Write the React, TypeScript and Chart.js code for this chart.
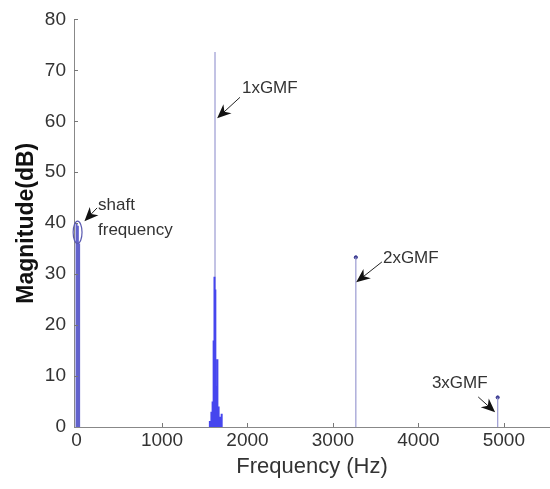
import React, { useEffect, useRef } from "react";
import { Chart, registerables } from "chart.js";

Chart.register(...registerables);

// ---- data ----
const xTickValues = [0, 1000, 2000, 3000, 4000, 5000];
const yTickValues = [0, 10, 20, 30, 40, 50, 60, 70, 80];

const shaftFreqs = [0, 15, 30];
const shaftMags = [40, 39.5, 36];

const harmonicFreqs = [1620, 3268, 4928];
const harmonicMags = [73.6, 33.3, 5.8];

const sidebandFreqs = [1560, 1578, 1592, 1604, 1614, 1624, 1634, 1648, 1662, 1678, 1698];
const sidebandMags = [1.2, 3.0, 5.0, 17.0, 29.5, 27.0, 8.0, 13.3, 4.0, 2.0, 2.6];

const annotationLabels = [
  ["shaft", "frequency"],
  ["1xGMF"],
  ["2xGMF"],
  ["3xGMF"],
];
// text anchor (left, first-line middle) and arrow tail/tip, in data units
const annotationTextX = [251, 1935, 3585, 4158];
const annotationTextY = [43.5, 66.5, 33.1, 8.6];
const arrowTailX = [240, 1912, 3573, 4700];
const arrowTailY = [43.0, 64.7, 32.4, 5.9];
const arrowTipX = [92, 1645, 3272, 4898];
const arrowTipY = [40.4, 60.6, 28.4, 2.9];

// ellipse around the shaft frequency peak (center and radii in data units)
const shaftEllipse = { cx: 12, cy: 38.2, rx: 52, ry: 2.2 };

function spikes(freqs: number[], mags: number[]) {
  const pts: { x: number; y: number | null }[] = [];
  freqs.forEach((f, i) => {
    pts.push({ x: f, y: 0 });
    pts.push({ x: f, y: mags[i] });
    pts.push({ x: f, y: null });
  });
  return pts;
}

const FONT = '"Liberation Sans", Arial, Helvetica, sans-serif';

const decorPlugin = {
  id: "decor",
  afterDatasetsDraw(chart: any) {
    const { ctx, chartArea, scales } = chart;
    const xs = scales.x;
    const ys = scales.y;
    ctx.save();
    // inner tick marks
    ctx.strokeStyle = "#777";
    ctx.lineWidth = 1;
    ctx.beginPath();
    xTickValues.forEach((v) => {
      if (v === 0) return;
      const px = Math.round(xs.getPixelForValue(v)) + 0.5;
      ctx.moveTo(px, chartArea.bottom);
      ctx.lineTo(px, chartArea.bottom - 4);
    });
    yTickValues.forEach((v) => {
      if (v === 0) return;
      const py = Math.round(ys.getPixelForValue(v)) + 0.5;
      ctx.moveTo(chartArea.left, py);
      ctx.lineTo(chartArea.left + 4, py);
    });
    ctx.stroke();

    // ellipse
    const ecx = xs.getPixelForValue(shaftEllipse.cx);
    const ecy = ys.getPixelForValue(shaftEllipse.cy);
    const erx = Math.abs(xs.getPixelForValue(shaftEllipse.cx + shaftEllipse.rx) - ecx);
    const ery = Math.abs(ys.getPixelForValue(shaftEllipse.cy + shaftEllipse.ry) - ecy);
    ctx.strokeStyle = "#5a5ab0";
    ctx.lineWidth = 1.2;
    ctx.beginPath();
    ctx.ellipse(ecx, ecy, erx, ery, 0, 0, Math.PI * 2);
    ctx.stroke();

    // annotations
    ctx.font = `17px ${FONT}`;
    ctx.fillStyle = "#333";
    ctx.textBaseline = "middle";
    ctx.textAlign = "left";
    annotationLabels.forEach((lines, i) => {
      const tx = xs.getPixelForValue(annotationTextX[i]);
      const ty = ys.getPixelForValue(annotationTextY[i]);
      lines.forEach((ln, j) => ctx.fillText(ln, tx, ty + j * 25));

      const x0 = xs.getPixelForValue(arrowTailX[i]);
      const y0 = ys.getPixelForValue(arrowTailY[i]);
      const x1 = xs.getPixelForValue(arrowTipX[i]);
      const y1 = ys.getPixelForValue(arrowTipY[i]);
      const ang = Math.atan2(y1 - y0, x1 - x0);
      const L = 14;
      const W = 6;
      ctx.strokeStyle = "#222";
      ctx.lineWidth = 1;
      ctx.beginPath();
      ctx.moveTo(x0, y0);
      ctx.lineTo(x1 - Math.cos(ang) * 6, y1 - Math.sin(ang) * 6);
      ctx.stroke();
      const bx = x1 - Math.cos(ang) * L;
      const by = y1 - Math.sin(ang) * L;
      const nx = -Math.sin(ang);
      const ny = Math.cos(ang);
      const mx = x1 - Math.cos(ang) * (L * 0.7);
      const my = y1 - Math.sin(ang) * (L * 0.7);
      ctx.fillStyle = "#111";
      ctx.beginPath();
      ctx.moveTo(x1, y1);
      ctx.lineTo(bx + nx * W, by + ny * W);
      ctx.lineTo(mx, my);
      ctx.lineTo(bx - nx * W, by - ny * W);
      ctx.closePath();
      ctx.fill();
      ctx.fillStyle = "#333";
    });
    ctx.restore();
  },
};

export default function App() {
  const ref = useRef<HTMLCanvasElement | null>(null);
  useEffect(() => {
    if (!ref.current) return;
    const chart = new Chart(ref.current, {
      type: "line",
      data: {
        datasets: [
          {
            data: spikes(sidebandFreqs, sidebandMags),
            borderColor: "#4646ee",
            borderWidth: 2,
            pointRadius: 0,
            spanGaps: false,
          },
          {
            data: spikes(harmonicFreqs, harmonicMags),
            borderColor: "#9a9ad2",
            borderWidth: 1.2,
            pointRadius: 0,
            spanGaps: false,
          },
          {
            data: spikes(shaftFreqs, shaftMags),
            borderColor: "#6262cc",
            borderWidth: 2,
            pointRadius: 0,
            spanGaps: false,
          },
          {
            type: "scatter",
            data: harmonicFreqs.slice(1).map((f, i) => ({ x: f, y: harmonicMags[i + 1] })),
            pointRadius: 1.6,
            backgroundColor: "#3a3a90",
            borderColor: "#3a3a90",
          } as any,
        ],
      },
      options: {
        animation: false,
        responsive: true,
        maintainAspectRatio: false,
        layout: { autoPadding: false, padding: { top: 18, right: 0, left: 0, bottom: 0 } },
        plugins: { legend: { display: false }, tooltip: { enabled: false } },
        scales: {
          x: {
            type: "linear",
            min: -30,
            max: 5540,
            afterBuildTicks: (s: any) => {
              s.ticks = xTickValues.map((v) => ({ value: v }));
            },
            afterFit: (s: any) => {
              s.height = 62;
              s.paddingLeft = 0;
              s.paddingRight = 0;
            },
            grid: { display: true, drawOnChartArea: false, drawTicks: false },
            border: { display: true, color: "#888", width: 1 },
            ticks: {
              padding: 2,
              color: "#333",
              font: { family: FONT, size: 19 },
              maxRotation: 0,
              autoSkip: false,
              callback: (v: any) => String(v),
            },
            title: {
              display: true,
              text: "Frequency (Hz)",
              color: "#333",
              font: { family: FONT, size: 22 },
              padding: { top: 9, bottom: 9 },
            },
          },
          y: {
            min: 0,
            max: 80,
            afterBuildTicks: (s: any) => {
              s.ticks = yTickValues.map((v) => ({ value: v }));
            },
            afterFit: (s: any) => {
              s.width = 74;
            },
            grid: { display: true, drawOnChartArea: false, drawTicks: false },
            border: { display: true, color: "#888", width: 1 },
            ticks: {
              padding: 8,
              color: "#333",
              font: { family: FONT, size: 19 },
              callback: (v: any) => String(v),
            },
            title: {
              display: true,
              text: "Magnitude(dB)",
              color: "#111",
              font: { family: FONT, size: 23, weight: "bold" },
              padding: { top: 13, bottom: 0 },
            },
          },
        },
      },
      plugins: [decorPlugin],
    });
    return () => chart.destroy();
  }, []);
  return (
    <div style={{ position: "fixed", left: 0, top: 0, width: 550, height: 489, background: "#fff" }}>
      <canvas ref={ref} />
    </div>
  );
}
